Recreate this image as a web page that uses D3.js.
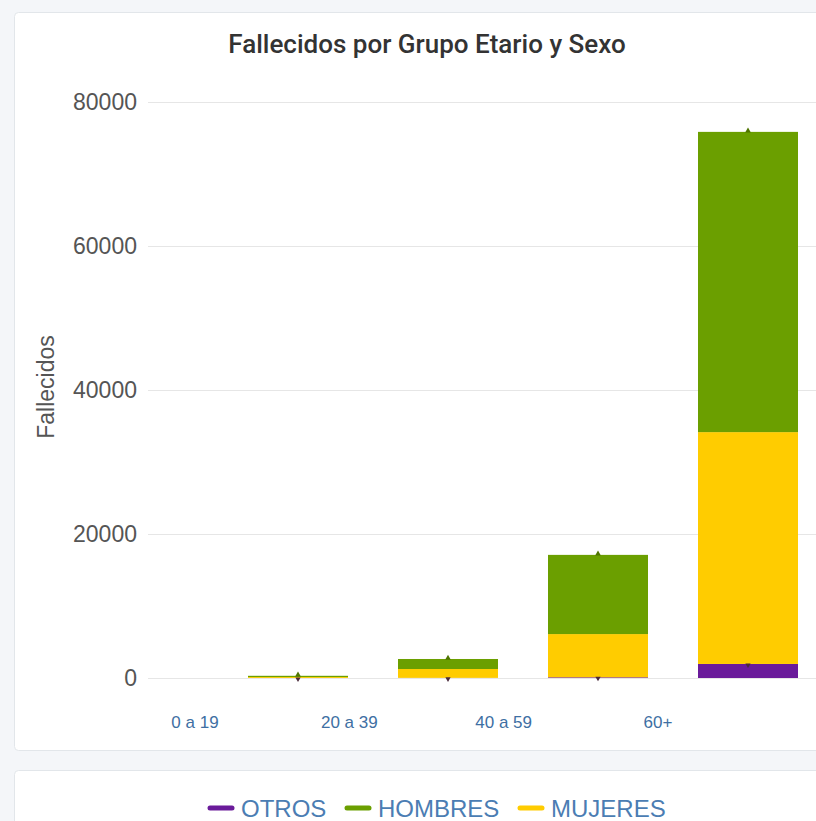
<!DOCTYPE html>
<html>
<head>
<meta charset="utf-8">
<script src="https://cdn.jsdelivr.net/npm/d3@7"></script>
<style>
  html, body { margin: 0; padding: 0; background: #f4f6f9; }
  svg { display: block; }
</style>
</head>
<body>
<svg id="chart"></svg>
<script>
// Age groups (bars sit in slots 1..4, slot 0 is empty as in the source)
const slots = ['', '0 a 19', '20 a 39', '40 a 59', '60+'];
const tickLabels = ['0 a 19', '20 a 39', '40 a 59', '60+'];
const otros = [0, 5, 20, 100, 1950];
const mujeres = [0, 130, 1230, 6000, 32200];
const hombres = [0, 170, 1390, 11000, 41700];
const yTicks = [0, 20000, 40000, 60000, 80000];

const seriesNames = ['OTROS', 'HOMBRES', 'MUJERES'];
const colors = { OTROS: '#6a1b9a', HOMBRES: '#6b9f00', MUJERES: '#ffcc00' };

const width = 816;
const height = 821;
const svg = d3.select('#chart').attr('width', width).attr('height', height);

// Cards
svg.append('rect')
  .attr('x', 14.5).attr('y', 12.5).attr('width', 840).attr('height', 738)
  .attr('rx', 4).attr('fill', '#fff').attr('stroke', '#e2e6ea');
svg.append('rect')
  .attr('x', 14.5).attr('y', 770.5).attr('width', 840).attr('height', 100)
  .attr('rx', 4).attr('fill', '#fff').attr('stroke', '#e2e6ea');

svg.append('text')
  .attr('x', 427).attr('y', 53)
  .attr('text-anchor', 'middle')
  .attr('font-family', 'Roboto, sans-serif')
  .attr('font-weight', 500)
  .attr('font-size', 26)
  .attr('fill', '#333')
  .text('Fallecidos por Grupo Etario y Sexo');

// Scales
const x = d3.scaleBand().domain(slots).range([73, 823]).paddingInner(1 / 3).paddingOuter(1 / 6);
const y = d3.scaleLinear().domain([0, 80000]).range([678, 102]);
const xLabel = d3.scalePoint().domain(tickLabels).range([195, 658]);

// Grid + y labels
const yAxis = svg.append('g')
  .attr('transform', 'translate(148,0)')
  .call(d3.axisLeft(y).tickValues(yTicks).tickSize(-700).tickPadding(11).tickFormat(d3.format('d')));
yAxis.select('.domain').remove();
yAxis.selectAll('.tick line').attr('stroke', '#e6e6e6');
yAxis.selectAll('.tick text')
  .attr('font-family', '"Liberation Sans", Arial, sans-serif')
  .attr('font-size', 23)
  .attr('fill', '#555');

svg.append('text')
  .attr('transform', 'translate(54,387) rotate(-90)')
  .attr('text-anchor', 'middle')
  .attr('font-family', '"Liberation Sans", Arial, sans-serif')
  .attr('font-size', 23)
  .attr('fill', '#555')
  .text('Fallecidos');

// Stacked bars
const rows = slots.map((s, i) => ({ slot: s, OTROS: otros[i], MUJERES: mujeres[i], HOMBRES: hombres[i] }));
const stack = d3.stack().keys(['OTROS', 'MUJERES', 'HOMBRES'])(rows);

const layers = svg.append('g').selectAll('g')
  .data(stack)
  .join('g')
  .attr('fill', (d) => colors[d.key]);

layers.selectAll('rect')
  .data((d) => d)
  .join('rect')
  .attr('x', (d) => x(d.data.slot))
  .attr('width', x.bandwidth())
  .attr('y', (d) => y(d[1]))
  .attr('height', (d) => Math.max(0, y(d[0]) - y(d[1])));

// small markers at top of total and at otros level
const withData = rows.filter((r) => r.HOMBRES > 0);
svg.append('g').selectAll('path.top')
  .data(withData)
  .join('path')
  .attr('d', d3.symbol(d3.symbolTriangle, 14))
  .attr('transform', (d) => `translate(${x(d.slot) + x.bandwidth() / 2},${y(d.OTROS + d.MUJERES + d.HOMBRES) - 1})`)
  .attr('fill', '#4f7500');
svg.append('g').selectAll('path.bot')
  .data(withData)
  .join('path')
  .attr('d', d3.symbol(d3.symbolTriangle, 12))
  .attr('transform', (d) => `translate(${x(d.slot) + x.bandwidth() / 2},${y(d.OTROS) + 1}) rotate(180)`)
  .attr('fill', '#4a2a3a');

// X labels (offset from bars as in the source)
svg.append('g').selectAll('text')
  .data(tickLabels)
  .join('text')
  .attr('x', (d) => xLabel(d))
  .attr('y', 728)
  .attr('text-anchor', 'middle')
  .attr('font-family', '"Liberation Sans Narrow", "Liberation Sans", Arial, sans-serif')
  .attr('font-size', 17)
  .attr('fill', '#3e6fa3')
  .text((d) => d);

// Legend
const legendX = [208, 345, 518];
const legend = svg.append('g').selectAll('g')
  .data(seriesNames)
  .join('g')
  .attr('transform', (d, i) => `translate(${legendX[i]},808)`);
legend.append('line')
  .attr('x1', 2).attr('x2', 24).attr('y1', 0).attr('y2', 0)
  .attr('stroke', (d) => colors[d])
  .attr('stroke-width', 5)
  .attr('stroke-linecap', 'round');
legend.append('text')
  .attr('x', 33).attr('y', 9)
  .attr('font-family', '"Liberation Sans", Arial, sans-serif')
  .attr('font-size', 24)
  .attr('fill', '#4b7db3')
  .text((d) => d);
</script>
</body>
</html>
